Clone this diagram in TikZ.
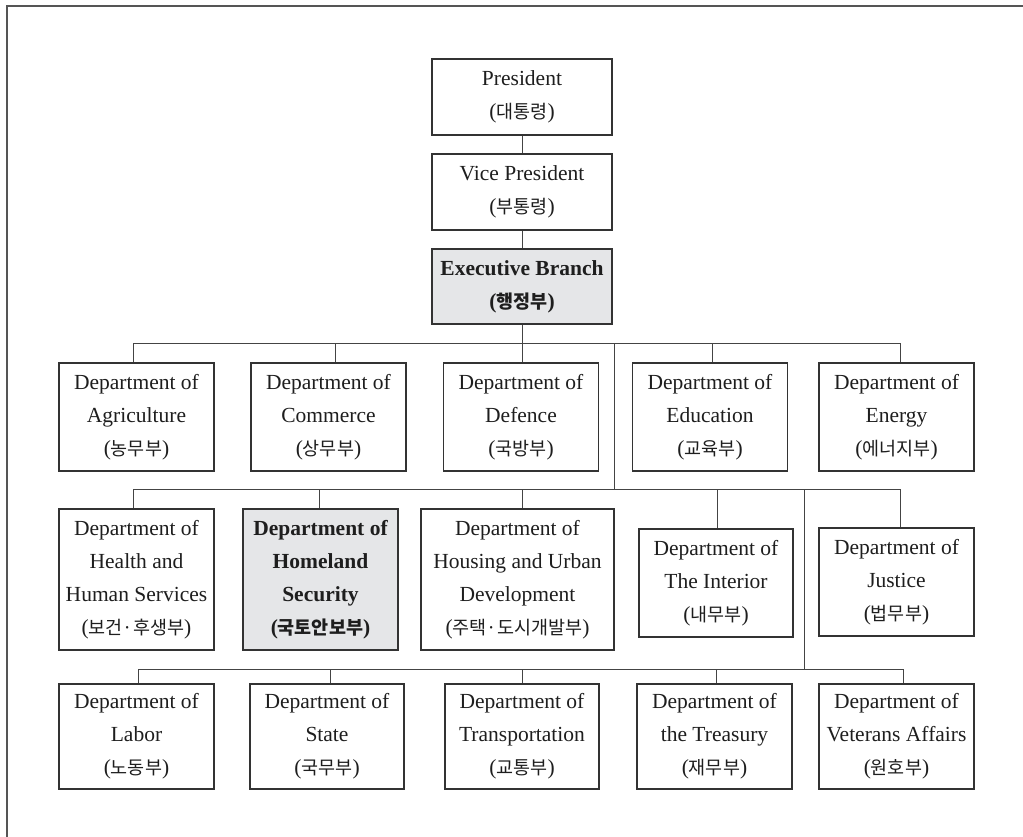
\documentclass[tikz,border=0pt]{standalone}
\usepackage{fontspec}
\setmainfont{Liberation Serif}
\newfontfamily\cjk{Noto Sans CJK KR}
\newcommand\kr[1]{{\cjk\fontsize{18.5}{33}\selectfont #1}}
\definecolor{boxc}{HTML}{333333}
\definecolor{linec}{HTML}{444444}
\definecolor{textc}{HTML}{1E1E1E}
\definecolor{hlgray}{HTML}{E5E6E8}
\definecolor{framec}{HTML}{555555}
\begin{document}
\begin{tikzpicture}[x=1pt,y=-1pt,
  box/.style={draw=boxc, line width=1.2pt, fill=white, align=center, inner sep=0pt,
    font=\fontsize{21.5}{33}\selectfont, text=textc},
  hl/.style={box, fill=hlgray, font=\fontsize{21.5}{33}\selectfont\bfseries},
  conn/.style={draw=linec, line width=0.9pt},
  framel/.style={draw=framec, line width=1.2pt}]
\useasboundingbox (0,0) rectangle (1023,837);
\draw[framel] (7,837) -- (7,6) -- (1023,6);

% top chain
\node[box, minimum width=180, minimum height=76] (pres) at (522,97) {President\\(\kr{대통령})};
\node[box, minimum width=180, minimum height=76] (vp) at (522,192) {Vice President\\(\kr{부통령})};
\node[hl, minimum width=180, minimum height=75] (exec) at (522,286.5) {Executive Branch\\(\kr{행정부})};

% row 1
\node[box, minimum width=155, minimum height=108] (agr) at (136.5,417) {Department of\\Agriculture\\(\kr{농무부})};
\node[box, minimum width=155, minimum height=108] (com) at (328.5,417) {Department of\\Commerce\\(\kr{상무부})};
\node[box, minimum width=155, minimum height=108] (def) at (521,417) {Department of\\Defence\\(\kr{국방부})};
\node[box, minimum width=155, minimum height=108] (edu) at (710,417) {Department of\\Education\\(\kr{교육부})};
\node[box, minimum width=155, minimum height=108] (ene) at (896.5,417) {Department of\\Energy\\(\kr{에너지부})};

% row 2
\node[box, minimum width=155, minimum height=141] (hea) at (136.5,579.5) {Department of\\Health and\\Human Services\\(\kr{보건·후생부})};
\node[hl, minimum width=155, minimum height=141] (hom) at (320.5,579.5) {Department of\\Homeland\\Security\\(\kr{국토안보부})};
\node[box, minimum width=193, minimum height=141] (hou) at (517.5,579.5) {Department of\\Housing and Urban\\Development\\(\kr{주택·도시개발부})};
\node[box, minimum width=154, minimum height=108] (int) at (716,583) {Department of\\The Interior\\(\kr{내무부})};
\node[box, minimum width=155, minimum height=108] (jus) at (896.5,582) {Department of\\Justice\\(\kr{법무부})};

% row 3
\node[box, minimum width=155, minimum height=105] (lab) at (136.5,736.5) {Department of\\Labor\\(\kr{노동부})};
\node[box, minimum width=154, minimum height=105] (sta) at (327,736.5) {Department of\\State\\(\kr{국무부})};
\node[box, minimum width=154, minimum height=105] (tra) at (522,736.5) {Department of\\Transportation\\(\kr{교통부})};
\node[box, minimum width=155, minimum height=105] (tre) at (714.5,736.5) {Department of\\the Treasury\\(\kr{재무부})};
\node[box, minimum width=155, minimum height=105] (vet) at (896.5,736.5) {Department of\\Veterans Affairs\\(\kr{원호부})};

% bus coordinates
\coordinate (b1a) at (133,343);
\coordinate (b1b) at (335,343);
\coordinate (b1d) at (712,343);
\coordinate (b1e) at (900,343);
\coordinate (b1x) at (614.5,343);
\coordinate (b2a) at (133,489);
\coordinate (b2b) at (319.6,489);
\coordinate (b2c) at (522,489);
\coordinate (b2d) at (717,489);
\coordinate (b2e) at (900,489);
\coordinate (b2x) at (804,489);
\coordinate (b3a) at (138,669);
\coordinate (b3b) at (330,669);
\coordinate (b3c) at (522,669);
\coordinate (b3d) at (716,669);
\coordinate (b3e) at (903,669);

% connectors
\draw[conn] (pres) -- (vp);
\draw[conn] (vp) -- (exec);
\draw[conn] (exec.south) -- (exec.south |- def.north);
\draw[conn] (b1a) -- (b1e);
\draw[conn] (b1a) -- (b1a |- agr.north);
\draw[conn] (b1b) -- (b1b |- com.north);
\draw[conn] (b1d) -- (b1d |- edu.north);
\draw[conn] (b1e) -- (b1e |- ene.north);
\draw[conn] (b1x) -- (b2a -| b1x);
\draw[conn] (b2a) -- (b2e);
\draw[conn] (b2a) -- (b2a |- hea.north);
\draw[conn] (b2b) -- (b2b |- hom.north);
\draw[conn] (b2c) -- (b2c |- hou.north);
\draw[conn] (b2d) -- (b2d |- int.north);
\draw[conn] (b2e) -- (b2e |- jus.north);
\draw[conn] (b2x) -- (b3a -| b2x);
\draw[conn] (b3a) -- (b3e);
\draw[conn] (b3a) -- (b3a |- lab.north);
\draw[conn] (b3b) -- (b3b |- sta.north);
\draw[conn] (b3c) -- (b3c |- tra.north);
\draw[conn] (b3d) -- (b3d |- tre.north);
\draw[conn] (b3e) -- (b3e |- vet.north);
\end{tikzpicture}
\end{document}
